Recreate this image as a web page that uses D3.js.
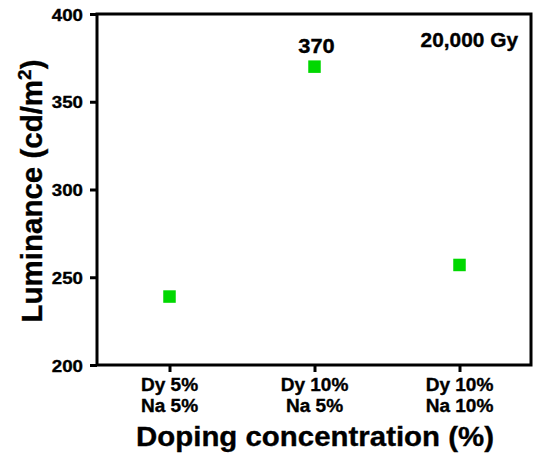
<!DOCTYPE html>
<html><head><meta charset="utf-8">
<script src="https://cdn.jsdelivr.net/npm/d3@7"></script>
<style>
html,body{margin:0;padding:0;background:#fff;}
text{font-family:"Liberation Sans",Arial,sans-serif;font-weight:bold;fill:#000;stroke:#000;stroke-width:0.35px;}
</style></head>
<body>
<svg id="chart" width="534" height="454"></svg>
<script>
const categories = ["Dy 5%|Na 5%", "Dy 10%|Na 5%", "Dy 10%|Na 10%"];
const luminance = [239, 370, 257];
const yTicks = [200, 250, 300, 350, 400];
const annotations = [{idx: 1, text: "370"}];
const doseLabel = "20,000 Gy";

const svg = d3.select("#chart");
const W = 534, H = 454;
const m = {left: 97, right: 3, top: 14, bottom: 89};
const x = d3.scalePoint().domain(categories).range([m.left, W - 2]).padding(0.5);
const y = d3.scaleLinear().domain([200, 400]).range([H - m.bottom, m.top]);

// helper: horizontally scaled text
function stext(parent, tx, ty, str, size, sx, anchor) {
  const g = parent.append("g").attr("transform", `translate(${tx},${ty}) scale(${sx},1)`);
  return g.append("text").attr("x", 0).attr("y", 0).attr("text-anchor", anchor)
    .style("font-size", size + "px").text(str);
}

// frame
svg.append("rect").attr("x", m.left).attr("y", m.top)
  .attr("width", W - m.right - m.left).attr("height", H - m.bottom - m.top)
  .attr("fill", "none").attr("stroke", "#000").attr("stroke-width", 3);

// y axis
const ya = svg.append("g").attr("transform", `translate(${m.left},0)`)
  .call(d3.axisLeft(y).tickValues(yTicks).tickSize(7).tickFormat(""));
ya.select(".domain").remove();
ya.selectAll(".tick line").attr("stroke", "#000").attr("stroke-width", 3);
yTicks.forEach(v => stext(svg, 83, y(v) + 6.5, String(v), 17, 1.1, "end"));

// x axis
const xa = svg.append("g").attr("transform", `translate(0,${H - m.bottom})`)
  .call(d3.axisBottom(x).tickSize(7).tickFormat(""));
xa.select(".domain").remove();
xa.selectAll(".tick line").attr("stroke", "#000").attr("stroke-width", 3);
categories.forEach(c => {
  const parts = c.split("|");
  stext(svg, x(c), 391, parts[0], 18.5, 1.03, "middle");
  stext(svg, x(c), 412, parts[1], 18.5, 1.03, "middle");
});

// points
const sz = 12.5;
svg.append("g").selectAll("rect").data(luminance).join("rect")
  .attr("x", (d, i) => x(categories[i]) - sz / 2)
  .attr("y", d => y(d) - sz / 2)
  .attr("width", sz).attr("height", sz)
  .attr("fill", "#00d800");

// annotations
annotations.forEach(a => {
  stext(svg, x(categories[a.idx]) + 2, y(luminance[a.idx]) - 14, a.text, 19.5, 1.12, "middle");
});
stext(svg, 518, 47, doseLabel, 19.5, 1.07, "end");

// axis titles
stext(svg, 315, 446, "Doping concentration (%)", 27, 1.09, "middle");
const yt = svg.append("text").attr("transform", `translate(42,191) rotate(-90)`)
  .attr("text-anchor", "middle").style("font-size", "29.5px");
yt.append("tspan").text("Luminance (cd/m");
yt.append("tspan").attr("dy", "-11").style("font-size", "19px").text("2");
yt.append("tspan").attr("dy", "11").text(")");
</script>
</body></html>
